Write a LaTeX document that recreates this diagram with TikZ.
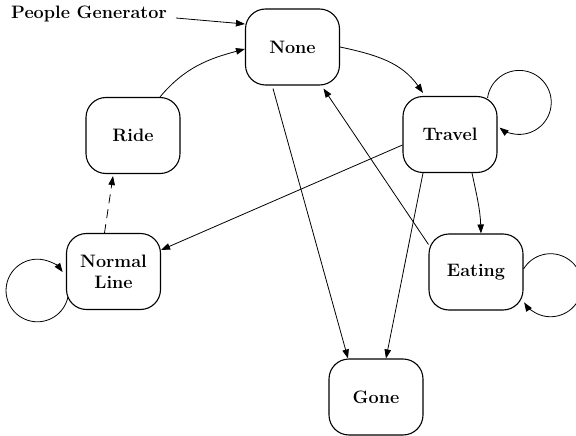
\documentclass[tikz,border=0pt]{standalone}
\usepackage{fontspec}
\usetikzlibrary{arrows.meta}
\begin{document}
\begin{tikzpicture}[x=1pt,y=1pt,
  state/.style={draw, line width=1.1pt, rounded corners=20pt, minimum width=94pt, minimum height=76pt, inner sep=0pt, align=center, font=\fontsize{18}{21}\selectfont\bfseries},
  lbl/.style={inner sep=0pt, font=\fontsize{18}{21}\selectfont\bfseries},
  edge/.style={line width=0.8pt, -{Triangle[length=9pt,width=6.5pt]}}]
\useasboundingbox (0,0) rectangle (576,-436);
\clip (0,0) rectangle (576,-436);
\node[state] (none) at (292.5,-47) {None};
\node[state] (travel) at (450,-134.5) {Travel};
\node[state] (ride) at (133,-135.5) {Ride};
\node[state] (normal) at (113.5,-271.5) {Normal\\Line};
\node[state] (eating) at (476,-272) {Eating};
\node[state] (gone) at (376,-397) {Gone};
\node[lbl] (gen) at (89,-14) {People Generator};

\draw[edge] ([xshift=9pt,yshift=-4pt]gen.east) -- ([yshift=23pt]none.west);
\draw[edge] ([xshift=27pt]ride.north) to[out=50,in=195] ([yshift=-2pt]none.west);
\draw[edge] (none.east) to[out=-12,in=125] ([xshift=-27pt,yshift=3pt]travel.north);
\draw[edge] ([xshift=-10pt,yshift=-2pt]travel.north east) arc[start angle=172, end angle=-128, radius=32];
\draw[edge] ([yshift=-10.5pt]travel.west) -- ([yshift=21.5pt]normal.east);
\draw[edge] ([xshift=-27pt]travel.south) -- ([xshift=10pt]gone.north);
\draw[edge] ([xshift=22pt]travel.south) to[out=-78,in=92] ([xshift=5pt]eating.north);
\draw[edge] ([yshift=-11pt]eating.north west) -- ([xshift=31pt,yshift=-3pt]none.south);
\draw[edge] ([xshift=-19.5pt,yshift=-3pt]none.south) -- ([xshift=-28pt]gone.north);
\draw[edge] ([yshift=3pt]eating.east) arc[start angle=149, end angle=-147, radius=31.5];
\draw[edge] ([xshift=2pt,yshift=-25.5pt]normal.west) arc[start angle=-12, end angle=-324, radius=31.3];
\draw[edge, dash pattern=on 9pt off 6pt] ([xshift=-9pt]normal.north) -- ([xshift=-20pt,yshift=-2pt]ride.south);
\end{tikzpicture}
\end{document}
